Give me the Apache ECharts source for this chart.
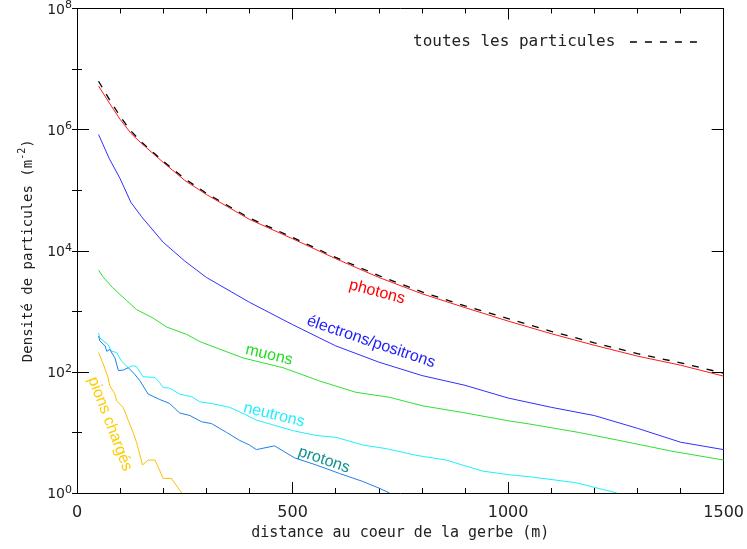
<!DOCTYPE html>
<html><head><meta charset="utf-8">
<script src="https://cdn.jsdelivr.net/npm/echarts@6/dist/echarts.min.js"></script>
<style>html,body{margin:0;padding:0;background:#fff;overflow:hidden}#c{width:747px;height:549px}</style>
</head><body><div id="c"></div>
<script>
// ---- data (distance in m, density in particles / m^2) ----
const xTickValues = [0, 500, 1000, 1500];
const yTickExponents = [0, 2, 4, 6, 8];

const distSmooth = [50, 75, 100, 125, 150, 200, 250, 300, 400, 500, 600, 700, 800, 900, 1000, 1100, 1200, 1300, 1400, 1500];
const photons   = [5.25e6, 2.75e6, 1.48e6, 8.7e5, 5.89e5, 2.88e5, 1.45e5, 8.5e4, 3.3e4, 1.58e4, 7400, 3630, 1950, 1150, 690, 427, 275, 182, 129, 85];
const total     = [6.3e6, 3.16e6, 1.66e6, 9.5e5, 6.2e5, 3.0e5, 1.55e5, 8.9e4, 3.47e4, 1.66e4, 7760, 3890, 2090, 1230, 760, 468, 302, 200, 141, 95];
const electrons = [8.3e5, 3.31e5, 1.55e5, 6.3e4, 3.63e4, 1.38e4, 6760, 3630, 1410, 603, 269, 145, 87, 60, 37, 26, 19, 11.7, 6.9, 5.2];

const distMuons = [50, 60, 83, 115, 138, 176, 208, 254, 285, 385, 478, 562, 647, 725, 802, 894, 1002, 1049, 1164, 1257, 1380, 1500];
const muons     = [4790, 3720, 2450, 1510, 1070, 776, 550, 417, 316, 170, 117, 71, 46, 38, 27.5, 21.4, 15.5, 13.8, 10, 7.4, 4.9, 3.5];

const distNeutrons = [50, 53, 72, 80, 92, 103, 119, 127, 138, 153, 181, 192, 200, 215, 238, 266, 285, 312, 354, 389, 416, 501, 555, 601, 663, 717, 786, 856, 894, 941, 1002, 1049, 1157, 1253];
const neutrons     = [437, 363, 282, 219, 209, 151, 117, 126, 123, 83, 81, 66, 55, 54, 43, 39, 32, 30, 26, 20, 16, 10.7, 8.9, 8.3, 6.2, 5.4, 4.2, 3.5, 2.9, 2.3, 2.0, 1.86, 1.48, 1.0];

const distProtons = [50, 53, 65, 69, 76, 88, 96, 107, 119, 134, 146, 165, 192, 215, 238, 262, 289, 312, 347, 377, 400, 416, 458, 505, 555, 609, 663, 701, 725];
const protons     = [389, 324, 269, 219, 234, 170, 105, 107, 117, 91, 71, 43, 35, 30, 21, 19, 15, 14, 10, 7.4, 6.2, 5.2, 6.0, 3.8, 2.9, 2.1, 1.55, 1.2, 1.0];

const distPions = [50, 61, 72, 76, 88, 92, 107, 119, 130, 138, 152, 165, 181, 200, 219, 243];
const pions     = [209, 135, 81, 59, 43, 33, 26, 15.8, 10, 6.9, 2.9, 3.5, 3.5, 1.74, 1.74, 1.0];

const seriesNames = {
  total: 'toutes les particules',
  photons: 'photons',
  electrons: 'électrons/positrons',
  muons: 'muons',
  neutrons: 'neutrons',
  protons: 'protons',
  pions: 'pions chargés'
};

// ---- chart ----
const zip = (xs, ys) => xs.map((x, i) => [x, ys[i]]);
const chart = echarts.init(document.getElementById('c'), null, {renderer: 'canvas'});

const axisCommonX = {
  type: 'value', min: 0, max: 1500, interval: 500,
  splitLine: {show: false},
  axisLine: {show: true, onZero: false, lineStyle: {color: '#000', width: 1}},
  axisTick: {show: true, inside: true, length: 11, lineStyle: {color: '#000'}},
  minorTick: {show: true, splitNumber: 5, length: 5, lineStyle: {color: '#000'}}
};
const logCommon = {type: 'log', logBase: 10, min: 1, max: 1e8, splitLine: {show: false}};

const yLabelFormatter = v => '{b|10}{s|' + Math.round(Math.log10(v)) + '}';

function line(name, xs, ys, color, extra) {
  return Object.assign({
    name: name, type: 'line', data: zip(xs, ys), showSymbol: false, symbol: 'none',
    xAxisIndex: 0, yAxisIndex: 0, clip: true,
    lineStyle: {color: color, width: 1}, itemStyle: {color: color}
  }, extra || {});
}

function rotText(text, x, y, deg, color) {
  return {
    type: 'text', x: x, y: y, rotation: -deg * Math.PI / 180,
    style: {text: text, fill: color, font: '16px "Liberation Sans", Arial, sans-serif',
            align: 'center', verticalAlign: 'middle'}
  };
}

chart.setOption({
  animation: false,
  backgroundColor: '#fff',
  grid: {left: 77, right: 22, top: 5, bottom: 56, containLabel: false},
  legend: {
    data: [seriesNames.total], left: 408, top: 29, align: 'right',
    itemWidth: 68, itemHeight: 10, selectedMode: false,
    itemStyle: {opacity: 0},
    lineStyle: {width: 1.6},
    formatter: n => n + ' ',
    textStyle: {fontFamily: 'DejaVu Sans Mono', fontSize: 16, color: '#222'}
  },
  xAxis: [
    Object.assign({}, axisCommonX, {
      position: 'bottom',
      axisLabel: {show: true, margin: 12, fontFamily: 'DejaVu Sans', fontSize: 16, color: '#222',
                  showMinLabel: true, showMaxLabel: true, formatter: v => String(v)},
      name: 'distance au coeur de la gerbe (m)', nameLocation: 'middle', nameGap: 26,
      nameTextStyle: {fontFamily: 'DejaVu Sans Mono', fontSize: 15, color: '#222'}
    }),
    Object.assign({}, axisCommonX, {position: 'top', axisLabel: {show: false}})
  ],
  yAxis: [
    Object.assign({}, logCommon, {
      position: 'left', interval: 2,
      axisLine: {show: true, onZero: false, lineStyle: {color: '#000'}},
      axisTick: {show: true, inside: true, length: 12, lineStyle: {color: '#000'}},
      axisLabel: {show: true, margin: 5, formatter: yLabelFormatter,
        rich: {
          b: {fontFamily: 'DejaVu Sans', fontSize: 14, color: '#222', lineHeight: 17, verticalAlign: 'bottom'},
          s: {fontFamily: 'DejaVu Sans', fontSize: 11, color: '#222', lineHeight: 17, verticalAlign: 'top'}
        }},
      name: '{n|Densité de particules (m}{s|-2}{n|)}', nameLocation: 'middle', nameGap: 42,
      nameTextStyle: {rich: {
        n: {fontFamily: 'DejaVu Sans Mono', fontSize: 14, color: '#222', lineHeight: 18, verticalAlign: 'bottom'},
        s: {fontFamily: 'DejaVu Sans Mono', fontSize: 10, color: '#222', lineHeight: 18, verticalAlign: 'top'}
      }}
    }),
    Object.assign({}, logCommon, {
      position: 'left', interval: 1,
      axisLine: {show: false},
      axisTick: {show: true, inside: true, length: 5, lineStyle: {color: '#000'}},
      axisLabel: {show: false}
    }),
    Object.assign({}, logCommon, {
      position: 'right', interval: 2,
      axisLine: {show: true, onZero: false, lineStyle: {color: '#000'}},
      axisTick: {show: true, inside: true, length: 12, lineStyle: {color: '#000'}},
      axisLabel: {show: false}
    }),
    Object.assign({}, logCommon, {
      position: 'right', interval: 1,
      axisLine: {show: false},
      axisTick: {show: true, inside: true, length: 5, lineStyle: {color: '#000'}},
      axisLabel: {show: false}
    })
  ],
  series: [
    line(seriesNames.photons, distSmooth, photons, '#ff1a1a'),
    line(seriesNames.electrons, distSmooth, electrons, '#3030ff'),
    line(seriesNames.muons, distMuons, muons, '#30e030'),
    line(seriesNames.neutrons, distNeutrons, neutrons, '#20eeff'),
    line(seriesNames.protons, distProtons, protons, '#2080e8'),
    line(seriesNames.pions, distPions, pions, '#ffbf00'),
    line(seriesNames.total, distSmooth, total, '#000',
         {lineStyle: {color: '#000', width: 1.3, type: [7, 8]}, z: 5})
  ],
  graphic: [
    rotText(seriesNames.photons, 377, 292, 14.8, '#ff0000'),
    rotText(seriesNames.electrons, 371, 342, 18.5, '#2020ff'),
    rotText(seriesNames.muons, 269, 355, 13.6, '#22dd22'),
    rotText(seriesNames.neutrons, 274, 415, 13.7, '#22eeff'),
    rotText(seriesNames.protons, 324, 460, 19, '#119090'),
    rotText(seriesNames.pions, 110, 424, 69, '#ffcc00')
  ]
});
</script></body></html>
